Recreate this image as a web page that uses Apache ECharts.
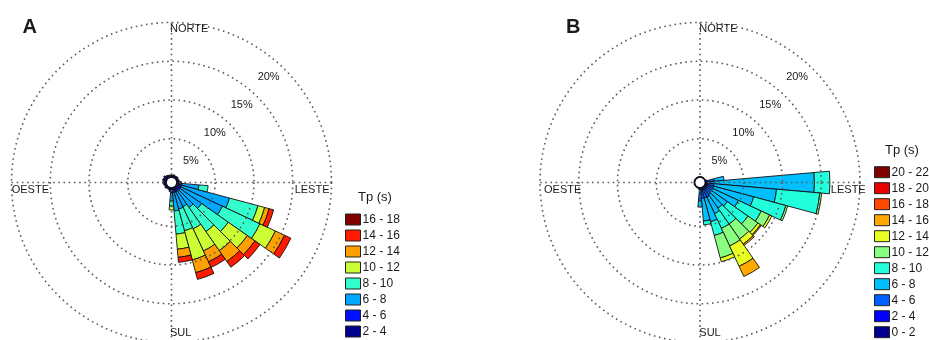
<!DOCTYPE html>
<html>
<head>
<meta charset="utf-8">
<script src="https://cdn.jsdelivr.net/npm/echarts@6/dist/echarts.min.js"></script>
<style>
  html, body { margin: 0; padding: 0; background: #fff; }
  #chart { width: 929px; height: 340px; }
</style>
</head>
<body>
<div id="chart"></div>
<script>
// Direction bins (degrees clockwise from north), 10-degree sectors
const directions = [0, 10, 20, 30, 40, 50, 60, 70, 80, 90, 100, 110, 120, 130, 140, 150, 160, 170,
                    180, 190, 200, 210, 220, 230, 240, 250, 260, 270, 280, 290, 300, 310, 320, 330, 340, 350];
// Frequency rings (%)
const ringTicks = [5, 10, 15, 20];
const compassNames = ['NORTE', 'LESTE', 'SUL', 'OESTE'];

// ---- Panel A: occurrence (%) per peak-period class, by direction bin ----
const classesA = ['2 - 4', '4 - 6', '6 - 8', '8 - 10', '10 - 12', '12 - 14', '14 - 16', '16 - 18'];
const a_2_4   = [0.35,0.3,0.4,0.3,0.35,0.4,0.3,0.35,0.4,0.45,0.3,0.3,0.3,0.3,0.3,0.3,0.3,0.3,0.3,0.4,0.35,0.3,0.3,0.4,0.3,0.35,0.4,0.5,0.45,0.55,0.45,0.6,0.45,0.4,0.35,0.3];
const a_4_6   = [0,0,0,0,0,0,0,0,0,0.2,0.4,0.4,0.4,0.4,0.4,0.4,0.4,0.4,0.4,0.15,0,0,0,0,0,0,0,0,0,0,0,0,0,0,0,0];
const a_6_8   = [0,0,0,0,0,0,0,0,0,0,2.2,6.4,5.9,3.4,2.6,2.1,2.2,2.35,1.05,0,0,0,0,0,0,0,0,0,0,0,0,0,0,0,0,0];
const a_8_10  = [0,0,0,0,0,0,0,0,0,0,1.2,3.8,5.35,4.2,3.8,3.15,2.9,3.0,0.65,0,0,0,0,0,0,0,0,0,0,0,0,0,0,0,0,0];
const a_10_12 = [0,0,0,0,0,0,0,0,0,0,0,0.9,2.2,3.0,3.0,3.15,3.9,1.95,0.5,0,0,0,0,0,0,0,0,0,0,0,0,0,0,0,0,0];
const a_12_14 = [0,0,0,0,0,0,0,0,0,0,0,0.6,1.3,1.2,1.7,1.55,1.7,1.05,0,0,0,0,0,0,0,0,0,0,0,0,0,0,0,0,0,0];
const a_14_16 = [0,0,0,0,0,0,0,0,0,0,0,0.6,0.9,0.8,0.9,0.8,0.9,0.65,0,0,0,0,0,0,0,0,0,0,0,0,0,0,0,0,0,0];
const a_16_18 = [0,0,0,0,0,0,0,0,0,0,0,0,0,0,0,0,0,0,0,0,0,0,0,0,0,0,0,0,0,0,0,0,0,0,0,0];
const valuesA = [a_2_4, a_4_6, a_6_8, a_8_10, a_10_12, a_12_14, a_14_16, a_16_18];

// ---- Panel B ----
const classesB = ['0 - 2', '2 - 4', '4 - 6', '6 - 8', '8 - 10', '10 - 12', '12 - 14', '14 - 16', '16 - 18', '18 - 20', '20 - 22'];
const b_0_2   = [0.13,0.13,0.13,0.13,0.13,0.13,0.13,0.13,0.13,0.13,0.13,0.13,0.13,0.13,0.13,0.13,0.13,0.13,0.13,0.13,0.13,0.13,0.13,0.13,0.13,0.13,0.13,0.13,0.13,0.13,0.13,0.13,0.13,0.13,0.13,0.13];
const b_2_4   = [0,0,0,0,0,0,0,0.1,0.26,0.26,0.26,0.26,0.26,0.26,0.26,0.26,0.26,0.4,0.4,0.1,0,0,0,0,0,0,0,0,0,0,0,0,0,0,0,0];
const b_4_6   = [0,0,0,0,0,0,0,0,0.78,0.78,0.78,0.78,0.78,0.78,0.92,1.05,1.05,0.92,1.2,0,0,0,0,0,0,0,0,0,0,0,0,0,0,0,0,0];
const b_6_8   = [0,0,0,0,0,0,0,0,1.3,12.95,8.1,5.35,3.65,2.5,2.1,2.35,3.15,2.9,0.8,0,0,0,0,0,0,0,0,0,0,0,0,0,0,0,0,0];
const b_8_10  = [0,0,0,0,0,0,0,0,0,2.0,5.6,4.3,3.25,3.25,2.5,2.1,1.85,0.5,0,0,0,0,0,0,0,0,0,0,0,0,0,0,0,0,0,0];
const b_10_12 = [0,0,0,0,0,0,0,0,0,0,0.25,0.25,1.2,1.55,2.35,2.5,3.0,0,0,0,0,0,0,0,0,0,0,0,0,0,0,0,0,0,0,0];
const b_12_14 = [0,0,0,0,0,0,0,0,0,0,0,0,0.3,0.4,0.8,2.9,0.5,0,0,0,0,0,0,0,0,0,0,0,0,0,0,0,0,0,0,0];
const b_14_16 = [0,0,0,0,0,0,0,0,0,0,0,0,0,0.15,0.2,1.45,0,0,0,0,0,0,0,0,0,0,0,0,0,0,0,0,0,0,0,0];
const b_16_18 = [0,0,0,0,0,0,0,0,0,0,0,0,0,0,0,0,0,0,0,0,0,0,0,0,0,0,0,0,0,0,0,0,0,0,0,0];
const b_18_20 = [0,0,0,0,0,0,0,0,0,0,0,0,0,0,0,0,0,0,0,0,0,0,0,0,0,0,0,0,0,0,0,0,0,0,0,0];
const b_20_22 = [0,0,0,0,0,0,0,0,0,0,0,0,0,0,0,0,0,0,0,0,0,0,0,0,0,0,0,0,0,0,0,0,0,0,0,0];
const valuesB = [b_0_2, b_2_4, b_4_6, b_6_8, b_8_10, b_10_12, b_12_14, b_14_16, b_16_18, b_18_20, b_20_22];

// ---- styling ----
const colorsA = ['#00008f', '#0010ff', '#00a8ff', '#33ffcc', '#ccff33', '#ffa000', '#ff1a00', '#800000'];
const colorsB = ['#000090', '#0000ff', '#0060ff', '#00bfff', '#22ffdd', '#88ff80', '#e8ff20', '#ffa800', '#ff4800', '#e80000', '#800000'];
const FONT = '"Liberation Sans", Arial, Helvetica, sans-serif';
const TEXT = '#1a1a1a';
const DOT = '#5c5c5c';
const R_IN = 5, R_OUT = 160;
const panels = [
  { key: 'A', cx: 171.5, cy: 182.5, classes: classesA, values: valuesA, colors: colorsA,
    legendLeft: 345, legendTop: 213.5, titleX: 358, titleY: 197,
    letterX: 22.5, labelOffsets: { n: -1.5, e: 158, s: -1.5, w: -159.8 } },
  { key: 'B', cx: 700, cy: 182.5, classes: classesB, values: valuesB, colors: colorsB,
    legendLeft: 874, legendTop: 166.2, titleX: 885, titleY: 150,
    letterX: 566, labelOffsets: { n: -0.7, e: 165.7, s: -0.7, w: -156 } }
];

const option = {
  animation: false,
  backgroundColor: '#fff',
  polar: [], angleAxis: [], radiusAxis: [], series: [], legend: [], graphic: []
};

panels.forEach((p, k) => {
  const base = k * 3;
  for (let i = 0; i < 3; i++) option.polar.push({ center: [p.cx, p.cy], radius: [R_IN, R_OUT] });

  // sectors: category angle axis, bins centred on each direction
  option.angleAxis.push({ polarIndex: base, type: 'category', data: directions, startAngle: 95,
    clockwise: true, boundaryGap: true, show: false });
  option.radiusAxis.push({ polarIndex: base, type: 'value', min: 0, max: 20, show: false });

  // dotted frequency rings and compass cross, drawn above the sectors
  option.angleAxis.push({ polarIndex: base + 1, type: 'value', min: 0, max: 360, interval: 90,
    startAngle: 90, clockwise: true, z: 6,
    axisLine: { show: false }, axisTick: { show: false }, axisLabel: { show: false },
    splitLine: { show: true, lineStyle: { color: DOT, width: 1.6, type: [1.6, 3.6] } } });
  option.radiusAxis.push({ polarIndex: base + 1, type: 'value', min: 0, max: 20, interval: 5, z: 6,
    axisLine: { show: false }, axisTick: { show: false }, axisLabel: { show: false },
    // no ring at the origin
    splitLine: { show: true, lineStyle: { color: ['rgba(0,0,0,0)', DOT, DOT, DOT, DOT], width: 1.6, type: [1.6, 3.6] } } });

  // ring labels along the NE diagonal
  option.angleAxis.push({ polarIndex: base + 2, type: 'value', min: 0, max: 360, startAngle: 46, show: false });
  option.radiusAxis.push({ polarIndex: base + 2, type: 'value', min: 0, max: 20, interval: 5, z: 7,
    axisLine: { show: false }, axisTick: { show: false }, splitLine: { show: false },
    axisLabel: { show: true, margin: 0, align: 'right', verticalAlign: 'top', padding: [4, 3, 0, 0],
      fontSize: 11, fontFamily: FONT, color: TEXT,
      formatter: v => (ringTicks.indexOf(v) >= 0 ? v + '%' : '') } });

  p.classes.forEach((c, j) => {
    option.series.push({
      type: 'bar', coordinateSystem: 'polar', polarIndex: base,
      name: p.key + ' ' + c, stack: 'rose' + p.key, barCategoryGap: '0%',
      data: p.values[j].map(v => (v > 0 ? v : null)),
      itemStyle: { color: p.colors[j], borderColor: '#111', borderWidth: 0.9 },
      emphasis: { disabled: true }, silent: true
    });
  });

  option.legend.push({
    data: p.classes.map(c => p.key + ' ' + c).reverse(),
    formatter: n => n.slice(2),
    orient: 'vertical', left: p.legendLeft, top: p.legendTop, height: 200, padding: 0,
    itemWidth: 15, itemHeight: 11, itemGap: 4, icon: 'rect', selectedMode: false,
    itemStyle: { borderColor: '#222', borderWidth: 1 },
    textStyle: { fontSize: 12, fontFamily: FONT, color: TEXT, lineHeight: 12, padding: [0, 0, 0, -3] }
  });

  const o = p.labelOffsets;
  const txt = (text, x, y, align, size, weight) => ({
    type: 'text', x: x, y: y, silent: true, z: 10,
    style: { text: text, fill: TEXT, font: (weight || 'normal') + ' ' + size + 'px ' + FONT,
      align: align, textAlign: align, verticalAlign: 'middle', textVerticalAlign: 'middle' }
  });
  option.graphic.push(
    txt(compassNames[0], p.cx + o.n, p.cy - 153.5, 'left', 11),
    txt(compassNames[1], p.cx + o.e, p.cy + 7.7, 'right', 11),
    txt(compassNames[2], p.cx + o.s, p.cy + 150.5, 'left', 11),
    txt(compassNames[3], p.cx + o.w, p.cy + 7.5, 'left', 11),
    txt('Tp (s)', p.titleX, p.titleY, 'left', 13),
    txt(p.key, p.letterX, 27.2, 'left', 20, 'bold')
  );
});

const chart = echarts.init(document.getElementById('chart'), null, { renderer: 'canvas' });
chart.setOption(option);
</script>
</body>
</html>
